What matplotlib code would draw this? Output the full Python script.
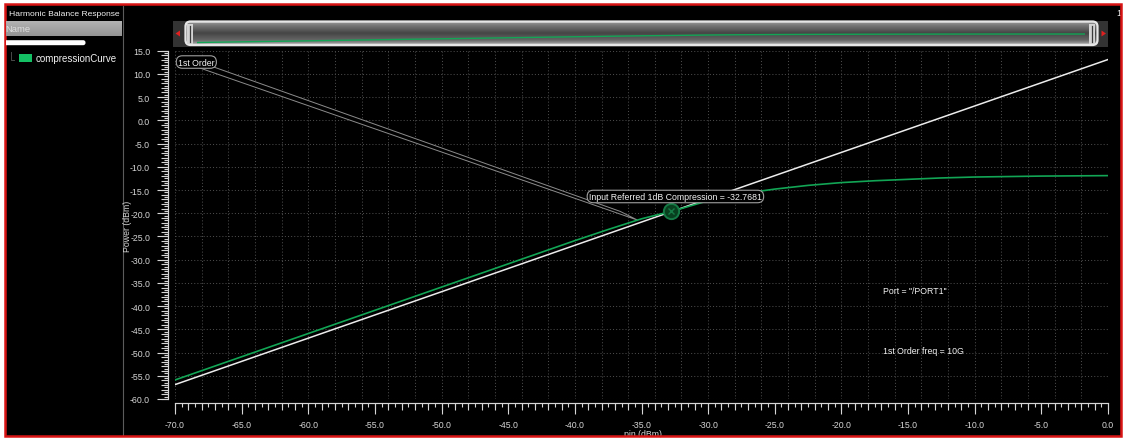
import numpy as np
import matplotlib
matplotlib.use("Agg")
import matplotlib.pyplot as plt
from matplotlib.patches import Rectangle, FancyBboxPatch, Polygon
from matplotlib.ticker import (MultipleLocator, FixedLocator, FormatStrFormatter,
                               NullLocator, NullFormatter)

# ---------------- data ----------------
# 1st-order output power of the compression sweep (pin -> pout, dBm)
pin_dbm = [-70.0, -60.0, -50.0, -45.0, -40.0, -37.5, -35.0, -32.5, -30.0, -27.5,
           -25.0, -22.5, -20.0, -17.5, -15.0, -12.5, -10.0, -7.5, -5.0, -2.5, 0.0]
pout_dbm = [-55.9, -45.9, -35.9, -30.9, -25.9, -23.5, -21.2, -19.4, -17.3, -15.8,
            -14.8, -14.0, -13.4, -13.0, -12.7, -12.4, -12.2, -12.1, -12.0, -11.95, -11.9]

# linear (1st order) extrapolation line
ext_pin_dbm = [-70.0, 0.0]
ext_pout_dbm = [-56.9, 13.1]

# input referred 1 dB compression point
p1db_input = -32.7681

x_tick_values = [-70.0, -65.0, -60.0, -55.0, -50.0, -45.0, -40.0, -35.0,
                 -30.0, -25.0, -20.0, -15.0, -10.0, -5.0, 0.0]
y_tick_values = [-60.0, -55.0, -50.0, -45.0, -40.0, -35.0, -30.0, -25.0,
                 -20.0, -15.0, -10.0, -5.0, 0.0, 5.0, 10.0, 15.0]

trace_name = "compressionCurve"
port_text = 'Port = "/PORT1"'
freq_text = "1st Order freq = 10G"

# ---------------- style ----------------
plt.rcParams['font.family'] = ['Liberation Sans', 'DejaVu Sans']
W, H = 1123, 439
GREEN = '#12a555'
TICK_C = '#d6d6d6'
TXT = '#f2f2f2'
FS = 6.3

fig = plt.figure(figsize=(W / 100, H / 100), dpi=100, facecolor='white')


def px_axes(x0, y0, x1, y1, **kw):
    """Axes placed by pixel box (top-left origin)."""
    return fig.add_axes([x0 / W, 1 - y1 / H, (x1 - x0) / W, (y1 - y0) / H], **kw)


# window chrome in pixel coordinates
chrome = fig.add_axes([0, 0, 1, 1], zorder=0)
chrome.set_xlim(0, W)
chrome.set_ylim(H, 0)
chrome.axis('off')

bg = Rectangle((5, 5), 1116, 432, facecolor='black', edgecolor='none', zorder=0)
chrome.add_patch(bg)
chrome.add_patch(Rectangle((5, 5), 1116, 432, facecolor='none',
                           edgecolor='#d81414', lw=1.8, zorder=5))

# panel separator
chrome.plot([122.5, 122.5], [7, 436], color='#5c5c5c', lw=0.8, zorder=1)

# scrollbar track
chrome.add_patch(Rectangle((173, 21.5), 935, 26, facecolor='#333333', edgecolor='none', zorder=1))
chrome.add_patch(Polygon([(175.5, 34.5), (180, 31.5), (180, 37.5)], closed=True,
                         facecolor='#e02020', edgecolor='none', zorder=2))
chrome.add_patch(Polygon([(1106, 34.5), (1101.5, 31.5), (1101.5, 37.5)], closed=True,
                         facecolor='#e02020', edgecolor='none', zorder=2))

# scrollbar thumb with shaded body
thumb = FancyBboxPatch((185.5, 22.5), 912, 23.5, boxstyle='round,pad=0,rounding_size=5',
                       facecolor='none', edgecolor='#e6e6e6', lw=1.6, zorder=3)
chrome.add_patch(thumb)
rows = np.linspace(0, 1, 60)
shade = np.interp(rows, [0, 0.08, 0.2, 0.5, 0.8, 0.92, 1.0],
                  [0.85, 0.55, 0.45, 0.27, 0.40, 0.58, 0.85])
grad = np.repeat(shade[:, None, None], 3, axis=2)
im = chrome.imshow(grad, extent=(185.5, 1097.5, 46, 22.5), origin='upper',
                   aspect='auto', interpolation='bilinear', zorder=2)
im.set_clip_path(thumb)
chrome.set_xlim(0, W)
chrome.set_ylim(H, 0)
for gx in (190.0, 1092.0):
    chrome.add_patch(Rectangle((gx - 3, 24.5), 6, 20, facecolor='#d4d4d4',
                               edgecolor='none', zorder=3))
    chrome.plot([gx, gx], [26.5, 42.5], color='#3a3a3a', lw=0.9, zorder=4)

chrome.text(1116, 14, '1', color=TXT, fontsize=6.5, va='center', ha='left', zorder=2)

xlabel = chrome.text(643, 434.5, 'pin (dBm)', color=TICK_C, fontsize=FS,
                     ha='center', va='center', zorder=2)
xlabel.set_clip_path(bg)
chrome.text(127, 226, 'Power (dBm)', color=TICK_C, fontsize=FS, rotation=90,
            ha='center', va='center', zorder=2)

# ---------------- left panel ----------------
panel = px_axes(6, 7, 122, 436, zorder=1)
panel.set_xlim(6, 122)
panel.set_ylim(436, 7)
panel.axis('off')
panel.text(9, 14, 'Harmonic Balance Response', color=TXT, fontsize=6.1,
           va='center', ha='left', clip_on=True)
hdr = np.interp(np.linspace(0, 1, 20), [0, 0.5, 1], [0.70, 0.64, 0.58])
panel.imshow(np.repeat(hdr[:, None, None], 3, axis=2), extent=(6, 122, 37.3, 22.3),
             origin='upper', aspect='auto', zorder=1)
panel.text(5, 29.8, 'Name', color='#dedede', fontsize=6.8, va='center', ha='left',
           clip_on=True, zorder=2)
panel.add_patch(FancyBboxPatch((4, 41.2), 81.5, 5, boxstyle='round,pad=0,rounding_size=2.3',
                               facecolor='white', edgecolor='none', zorder=2))
panel.plot([11, 11, 14], [53, 61, 61], color='#4a4a4a', lw=0.7, zorder=2)
panel.add_patch(Rectangle((18.5, 55), 13, 8.3, facecolor='#14c064', edgecolor='none', zorder=2))
panel.text(36, 59.3, trace_name, color=TXT, fontsize=7, va='center', ha='left',
           clip_on=True, zorder=2)
panel.set_xlim(6, 122)
panel.set_ylim(436, 7)

# ---------------- overview trace inside the scrollbar ----------------
mini = px_axes(197, 22, 1085, 46, zorder=3)
mini.set_xlim(-70, 0)
mini.set_ylim(-68.8, 55.5)
mini.axis('off')
mini.patch.set_alpha(0)
mini.plot(pin_dbm, pout_dbm, color=GREEN, lw=1.0)

# ---------------- main plot ----------------
ax = px_axes(175, 51.7, 1108, 400, zorder=2)
ax.set_facecolor('none')
ax.set_xlim(-70, 0)
ax.set_ylim(-60, 15)
ax.xaxis.set_major_locator(MultipleLocator(2))
ax.yaxis.set_major_locator(MultipleLocator(5))
ax.grid(True, color='#4a4a4a', ls=(0, (1, 2)), lw=0.75)
ax.tick_params(length=0, labelbottom=False, labelleft=False)
for s in ax.spines.values():
    s.set_visible(False)

# rulers: long ticks at labels, medium at 1 dB, short at 0.5 dB
xloc = -4 / 348.3
yloc = -7 / 933
for sec, axis, loc in ((ax.secondary_xaxis(xloc), 'x', xloc),
                       (ax.secondary_yaxis(yloc), 'y', yloc)):
    a = sec.xaxis if axis == 'x' else sec.yaxis
    a.set_major_locator(FixedLocator(x_tick_values if axis == 'x' else y_tick_values))
    a.set_major_formatter(FormatStrFormatter('%.1f'))
    a.set_minor_locator(MultipleLocator(0.5))
    sec.tick_params(which='major', length=7.9, width=0.8, color=TICK_C,
                    labelcolor=TICK_C, labelsize=FS, pad=4.5 if axis == 'x' else 5)
    sec.tick_params(which='minor', length=2.9, width=0.8, color=TICK_C)
    for s in sec.spines.values():
        s.set_color(TICK_C)
        s.set_linewidth(0.8)
    sec2 = ax.secondary_xaxis(loc) if axis == 'x' else ax.secondary_yaxis(loc)
    b = sec2.xaxis if axis == 'x' else sec2.yaxis
    b.set_major_locator(MultipleLocator(1))
    b.set_major_formatter(NullFormatter())
    b.set_minor_locator(NullLocator())
    sec2.tick_params(which='major', length=5, width=0.8, color=TICK_C)
    for s in sec2.spines.values():
        s.set_color(TICK_C)
        s.set_linewidth(0.8)

# traces
ax.plot(ext_pin_dbm, ext_pout_dbm, color='#ececec', lw=1.1, zorder=4)
ax.plot(pin_dbm, pout_dbm, color=GREEN, lw=1.2, zorder=4)

# "1st Order" trace label with callout
callout_pin = -35.3
callout_pout = float(np.interp(callout_pin, pin_dbm, pout_dbm))
ax.add_patch(Polygon([(-68.5, 11.64), (callout_pin, callout_pout),
                      (-36.6, -19.6), (-67.37, 11.77)], closed=True,
                     facecolor='black', edgecolor='#8c8c8c', lw=0.7, zorder=3))
box = dict(boxstyle='round,pad=0.2,rounding_size=0.7', facecolor='black',
           edgecolor='#a0a0a0', lw=0.8)
ax.text(-68.4, 12.56, '1st Order', color=TXT, fontsize=FS, ha='center', va='center',
        bbox=box, zorder=6)

# compression point marker and label
p1db_output = float(np.interp(p1db_input, pin_dbm, pout_dbm))
ax.plot([p1db_input], [p1db_output], 'o', ms=11, mfc='#08401f', mec='#157a45',
        mew=1.4, zorder=5)
ax.plot([p1db_input], [p1db_output], 'x', ms=5, color='#157a45', mew=1.0, zorder=5)
ax.annotate(f'Input Referred 1dB Compression = {p1db_input:.4f}',
            xy=(p1db_input, p1db_output), xytext=(3.0, 10.7), textcoords='offset points',
            color=TXT, fontsize=FS, ha='center', va='center', bbox=box, zorder=6)

ax.text(-16.87, -36.7, port_text, color=TXT, fontsize=FS, ha='left', va='center', zorder=6)
ax.text(-16.87, -49.5, freq_text, color=TXT, fontsize=FS, ha='left', va='center', zorder=6)

fig.savefig('out.png', dpi=100, facecolor=fig.get_facecolor())
